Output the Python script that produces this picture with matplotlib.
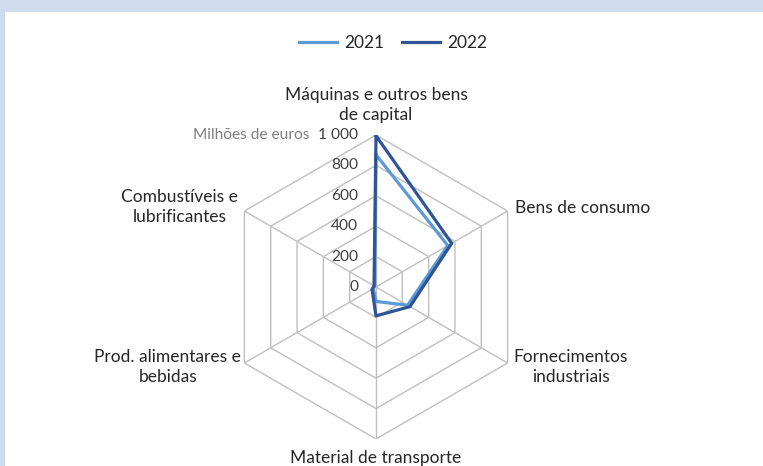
import numpy as np
import matplotlib.pyplot as plt
from matplotlib.patches import Rectangle
from matplotlib.lines import Line2D

categories = ["Máquinas e outros bens\nde capital", "Bens de consumo",
              "Fornecimentos\nindustriais", "Material de transporte",
              "Prod. alimentares e\nbebidas", "Combustíveis e\nlubrificantes"]
values_2021 = [870, 545, 240, 95, 20, 10]
values_2022 = [995, 575, 258, 190, 30, 15]
ring_values = [0, 200, 400, 600, 800, 1000]
ring_labels = ["0", "200", "400", "600", "800", "1 000"]
unit_label = "Milhões de euros"

plt.rcParams['font.family'] = ['Lato', 'DejaVu Sans']
fs = 12.5
fs_tick = 11.2

fig = plt.figure(figsize=(7.63, 4.66), dpi=100, facecolor='#CEDCEE')
fig.add_artist(Rectangle((5 / 763, 0), 1, 1 - 12 / 466, transform=fig.transFigure,
                         facecolor='white', edgecolor='none', zorder=0))

ax = fig.add_axes([224 / 763, 27 / 466, 304 / 763, 304 / 466], projection='polar')
ax.set_facecolor('none')
ax.set_theta_offset(np.pi / 2)
ax.set_theta_direction(-1)
ax.set_ylim(0, 1000)
ax.grid(False)
ax.spines['polar'].set_visible(False)
ax.set_xticks([])
ax.set_yticks([])

n = len(categories)
angles = np.linspace(0, 2 * np.pi, n, endpoint=False)
closed = np.append(angles, angles[0])

grid_col = '#BFBFBF'
for v in ring_values[1:]:
    ax.plot(closed, [v] * (n + 1), color=grid_col, lw=1, zorder=1)
for a in angles:
    ax.plot([a, a], [0, ring_values[-1]], color=grid_col, lw=1, zorder=1)

c21 = '#5B9BD5'
c22 = '#2F5597'
ax.plot(closed, values_2021 + values_2021[:1], color=c21, lw=2.3, zorder=3)
ax.plot(closed, values_2022 + values_2022[:1], color=c22, lw=2.3, zorder=4)

# radial labels along the top spoke
tick_texts = []
for v, lab in zip(ring_values, ring_labels):
    t = ax.annotate(lab, xy=(0, v), xytext=(-18, 0), textcoords='offset pixels',
                    ha='right', va='center', fontsize=fs_tick, color='#404040')
    tick_texts.append(t)
ax.annotate(unit_label, xy=(0, 0.5), xycoords=tick_texts[-1], xytext=(-9, 0),
            textcoords='offset pixels', ha='right', va='center', fontsize=fs_tick,
            color='#7F7F7F')

# category labels
offsets = [(0, 12), (7, 3), (6, -4), (0, -11), (-3, -4), (-6, 4)]
aligns = [('center', 'bottom'), ('left', 'center'), ('left', 'center'),
          ('center', 'top'), ('right', 'center'), ('right', 'center')]
for a, lab, off, (ha, va) in zip(angles, categories, offsets, aligns):
    ax.annotate(lab, xy=(a, ring_values[-1]), xytext=off, textcoords='offset pixels',
                ha=ha, va=va, multialignment='center', fontsize=fs, color='#262626',
                linespacing=1.3, annotation_clip=False)

handles = [Line2D([], [], color=c21, lw=2.3), Line2D([], [], color=c22, lw=2.3)]
fig.legend(handles, ['2021', '2022'], loc='center', bbox_to_anchor=(393 / 763, 1 - 43 / 466),
           ncol=2, frameon=False, fontsize=fs, handlelength=2.2, handletextpad=0.4,
           columnspacing=1.0, labelcolor='#262626')

fig.savefig('out.png', dpi=100, facecolor=fig.get_facecolor())
